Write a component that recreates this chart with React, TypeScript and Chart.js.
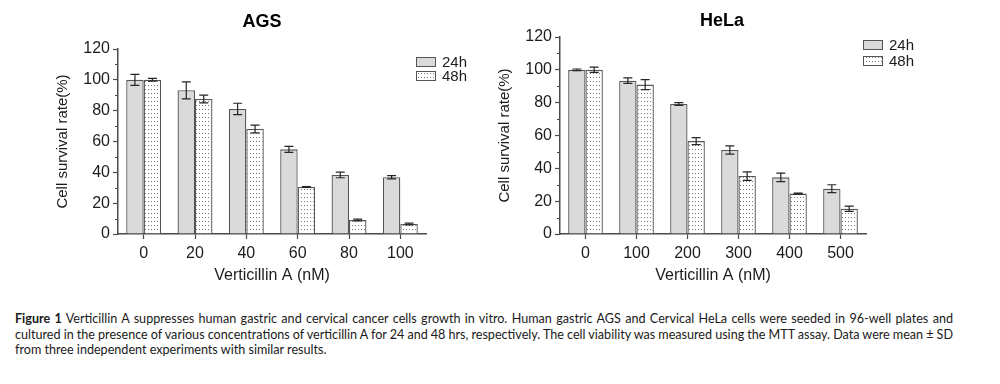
import React, { useEffect, useLayoutEffect, useRef } from 'react';
import { Chart, registerables } from 'chart.js';

Chart.register(...registerables);

// ---------- data ----------
const seriesLabels = ['24h', '48h'];

const agsCategories = ['0', '20', '40', '60', '80', '100'];
const agsValues24 = [100, 93.2, 81.1, 54.9, 38.3, 36.8];
const agsErrors24 = [3.6, 5.5, 3.7, 2.0, 1.8, 1.1];
const agsValues48 = [100, 87.6, 68.1, 30.5, 9.1, 6.5];
const agsErrors48 = [0.9, 2.5, 2.5, 0.3, 0.6, 0.6];

const helaCategories = ['0', '100', '200', '300', '400', '500'];
const helaValues24 = [100, 93.4, 79.2, 51.2, 34.5, 27.6];
const helaErrors24 = [0.5, 1.7, 0.8, 2.5, 2.6, 2.4];
const helaValues48 = [100, 91.0, 56.6, 35.3, 24.6, 15.4];
const helaErrors48 = [1.6, 3.0, 2.1, 2.6, 0.3, 1.6];

const yMin = 0;
const yMax = 120;
const yMajorStep = 20;
const yMinorTicks = [10, 30, 50, 70, 90, 110];

const xAxisTitle = 'Verticillin A (nM)';
const yAxisTitle = 'Cell survival rate(%)';

const captionBold = 'Figure 1';
const captionLines = [
  ' Verticillin A suppresses human gastric and cervical cancer cells growth in vitro. Human gastric AGS and Cervical HeLa cells were seeded in 96-well plates and',
  'cultured in the presence of various concentrations of verticillin A for 24 and 48 hrs, respectively. The cell viability was measured using the MTT assay. Data were mean ± SD',
  'from three independent experiments with similar results.',
];

// ---------- style ----------
const FONT = '"Liberation Sans", Arial, Helvetica, sans-serif';
const TEXT = '#1c1c1c';
const AXIS = '#4a4a4a';
const BAR_BORDER = '#555555';
const FILL_24 = '#dadada';

function makeDotPattern(): CanvasPattern | string {
  const c = document.createElement('canvas');
  c.width = 3;
  c.height = 4;
  const g = c.getContext('2d');
  if (!g) return '#ffffff';
  g.fillStyle = '#ffffff';
  g.fillRect(0, 0, 3, 4);
  g.fillStyle = '#7a7a7a';
  g.fillRect(1, 1, 1, 1);
  return g.createPattern(c, 'repeat') || '#ffffff';
}

// ---------- plugins ----------
const errorBarPlugin = {
  id: 'errorBars',
  afterDatasetsDraw(chart: any) {
    const ctx = chart.ctx;
    const yScale = chart.scales.y;
    ctx.save();
    ctx.strokeStyle = '#262626';
    ctx.lineWidth = 1.2;
    chart.data.datasets.forEach((ds: any, i: number) => {
      const meta = chart.getDatasetMeta(i);
      meta.data.forEach((bar: any, j: number) => {
        const v = ds.data[j];
        const e = ds.errors[j];
        const yt = yScale.getPixelForValue(v + e);
        const yb = yScale.getPixelForValue(v - e);
        const x = bar.x;
        const cap = 4.5;
        ctx.beginPath();
        ctx.moveTo(x, yt);
        ctx.lineTo(x, yb);
        ctx.moveTo(x - cap, yt);
        ctx.lineTo(x + cap, yt);
        ctx.moveTo(x - cap, yb);
        ctx.lineTo(x + cap, yb);
        ctx.stroke();
      });
    });
    ctx.restore();
  },
};

const minorTickPlugin = {
  id: 'minorTicks',
  afterDraw(chart: any) {
    const ctx = chart.ctx;
    const yScale = chart.scales.y;
    const left = chart.chartArea.left;
    ctx.save();
    ctx.strokeStyle = AXIS;
    ctx.lineWidth = 1.2;
    ctx.beginPath();
    yMinorTicks.forEach((v) => {
      const y = Math.round(yScale.getPixelForValue(v)) + 0.5;
      ctx.moveTo(left - 3, y);
      ctx.lineTo(left, y);
    });
    ctx.stroke();
    ctx.restore();
  },
};

const panelTitlePlugin = {
  id: 'panelTitle',
  afterDraw(chart: any, _args: any, opts: any) {
    const ctx = chart.ctx;
    const ca = chart.chartArea;
    ctx.save();
    ctx.font = `bold 18px ${FONT}`;
    ctx.fillStyle = '#000';
    ctx.textAlign = 'center';
    ctx.textBaseline = 'middle';
    ctx.fillText(opts.text, (ca.left + ca.right) / 2 + opts.dx, opts.y);
    ctx.restore();
  },
};

const boxLegendPlugin = {
  id: 'boxLegend',
  afterDraw(chart: any, _args: any, opts: any) {
    const ctx = chart.ctx;
    const ca = chart.chartArea;
    ctx.save();
    ctx.font = `15px ${FONT}`;
    ctx.textBaseline = 'middle';
    ctx.textAlign = 'left';
    chart.data.datasets.forEach((ds: any, i: number) => {
      const bx = ca.right + opts.dx;
      const cy = ca.top + opts.dy + i * opts.gap;
      ctx.fillStyle = ds.backgroundColor;
      ctx.fillRect(bx, cy - 4.5, 20, 9);
      ctx.strokeStyle = BAR_BORDER;
      ctx.lineWidth = 1;
      ctx.strokeRect(bx + 0.5, cy - 4.5, 19, 9);
      ctx.fillStyle = TEXT;
      ctx.fillText(ds.label, bx + 26, cy + 1);
    });
    ctx.restore();
  },
};

// ---------- panel ----------
type PanelProps = {
  title: string;
  categories: string[];
  v24: number[];
  e24: number[];
  v48: number[];
  e48: number[];
  width: number;
  height: number;
  padLeft: number;
  padRight: number;
  padTop: number;
  titleDx: number;
  titleY: number;
  legendDx: number;
  legendDy: number;
  legendGap: number;
};

function Panel(p: PanelProps) {
  const ref = useRef<HTMLCanvasElement | null>(null);
  useEffect(() => {
    if (!ref.current) return;
    const dots = makeDotPattern();
    const chart = new Chart(ref.current, {
      type: 'bar',
      data: {
        labels: p.categories,
        datasets: [
          {
            label: seriesLabels[0],
            data: p.v24,
            errors: p.e24,
            backgroundColor: FILL_24,
            borderColor: BAR_BORDER,
            borderWidth: 1.3,
            categoryPercentage: 0.68,
            barPercentage: 1,
          } as any,
          {
            label: seriesLabels[1],
            data: p.v48,
            errors: p.e48,
            backgroundColor: dots,
            borderColor: BAR_BORDER,
            borderWidth: 1.3,
            categoryPercentage: 0.68,
            barPercentage: 1,
          } as any,
        ],
      },
      options: {
        responsive: false,
        animation: false,
        devicePixelRatio: 1,
        layout: {
          padding: { left: p.padLeft, right: p.padRight, top: p.padTop, bottom: 0 },
        },
        plugins: {
          legend: { display: false },
          title: { display: false },
          tooltip: { enabled: false },
          panelTitle: { text: p.title, dx: p.titleDx, y: p.titleY },
          boxLegend: { dx: p.legendDx, dy: p.legendDy, gap: p.legendGap },
        } as any,
        scales: {
          x: {
            type: 'category',
            offset: true,
            afterFit: (s: any) => {
              s.height = 55;
            },
            grid: {
              offset: false,
              drawOnChartArea: false,
              drawTicks: true,
              tickLength: 5,
              tickColor: AXIS,
              tickWidth: 1.2,
            },
            border: { display: true, color: AXIS, width: 1.5 },
            ticks: {
              color: TEXT,
              font: { family: FONT, size: 16 },
              padding: 5,
              maxRotation: 0,
              autoSkip: false,
            },
            title: {
              display: true,
              text: xAxisTitle,
              color: TEXT,
              font: { family: FONT, size: 16 },
              padding: { top: 0, bottom: 4 },
            },
          },
          y: {
            min: yMin,
            max: yMax,
            afterFit: (s: any) => {
              s.width = 68;
            },
            grid: {
              drawOnChartArea: false,
              drawTicks: true,
              tickLength: 5,
              tickColor: AXIS,
              tickWidth: 1.2,
            },
            border: { display: true, color: AXIS, width: 1.5 },
            ticks: {
              stepSize: yMajorStep,
              color: TEXT,
              font: { family: FONT, size: 16 },
              padding: 3,
            },
            title: {
              display: true,
              text: yAxisTitle,
              color: TEXT,
              font: { family: FONT, size: 15 },
              padding: { top: 4, bottom: 0 },
            },
          },
        },
      } as any,
      plugins: [errorBarPlugin, minorTickPlugin, panelTitlePlugin, boxLegendPlugin],
    });
    return () => chart.destroy();
  }, []);
  return <canvas ref={ref} width={p.width} height={p.height} style={{ display: 'block' }} />;
}

// ---------- caption ----------
function Caption() {
  const refs = useRef<(HTMLSpanElement | null)[]>([]);
  const targets = [938, 938, 0];
  useLayoutEffect(() => {
    refs.current.forEach((el, i) => {
      if (!el || !targets[i]) return;
      el.style.wordSpacing = '0px';
      const natural = el.getBoundingClientRect().width;
      const spaces = (el.textContent || '').split(' ').length - 1;
      if (spaces > 0) el.style.wordSpacing = `${(targets[i] - natural) / spaces}px`;
    });
  }, []);
  return (
    <div
      style={{
        position: 'absolute',
        left: 15,
        top: 311,
        fontFamily: 'Lato, "Noto Sans", sans-serif',
        fontSize: 12.6,
        lineHeight: '15.5px',
        color: '#1a1a1a',
      }}
    >
      {captionLines.map((line, i) => (
        <div key={i} style={{ whiteSpace: 'nowrap' }}>
          <span
            ref={(el) => {
              refs.current[i] = el;
            }}
            style={{ display: 'inline-block' }}
          >
            {i === 0 ? <b>{captionBold}</b> : null}
            {line}
          </span>
        </div>
      ))}
    </div>
  );
}

export default function App() {
  return (
    <div
      style={{
        position: 'absolute',
        left: 0,
        top: 0,
        width: 1000,
        height: 384,
        background: '#ffffff',
        overflow: 'hidden',
      }}
    >
      <div style={{ position: 'absolute', left: 0, top: 0 }}>
        <Panel
          title="AGS"
          categories={agsCategories}
          v24={agsValues24}
          e24={agsErrors24}
          v48={agsValues48}
          e48={agsErrors48}
          width={490}
          height={289}
          padLeft={50}
          padRight={64}
          padTop={49}
          titleDx={-10}
          titleY={22}
          legendDx={-10}
          legendDy={13}
          legendGap={14}
        />
      </div>
      <div style={{ position: 'absolute', left: 490, top: 0 }}>
        <Panel
          title="HeLa"
          categories={helaCategories}
          v24={helaValues24}
          e24={helaErrors24}
          v48={helaValues48}
          e48={helaErrors48}
          width={510}
          height={289}
          padLeft={2}
          padRight={134}
          padTop={37}
          titleDx={9}
          titleY={21}
          legendDx={-3}
          legendDy={8}
          legendGap={16}
        />
      </div>
      <Caption />
    </div>
  );
}
